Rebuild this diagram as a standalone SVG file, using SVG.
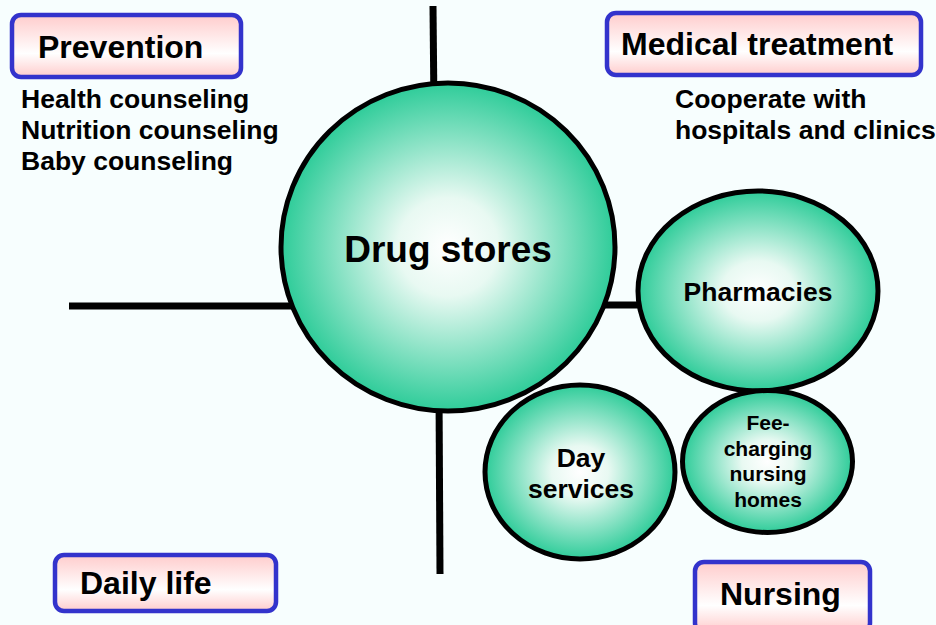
<svg xmlns="http://www.w3.org/2000/svg" width="936" height="625" viewBox="0 0 936 625">
  <defs>
    <radialGradient id="bubble" cx="50%" cy="50%" r="50%">
      <stop offset="0" stop-color="#ffffff"/>
      <stop offset="0.3" stop-color="#e8f9f2"/>
      <stop offset="1" stop-color="#2ecc99"/>
    </radialGradient>
    <linearGradient id="tag" x1="0" y1="0" x2="0" y2="1">
      <stop offset="0" stop-color="#ffcccc"/>
      <stop offset="0.62" stop-color="#ffffff"/>
      <stop offset="1" stop-color="#ffcccc"/>
    </linearGradient>
    <style>
      .bubble { fill: url(#bubble); stroke: #000; stroke-width: 5; }
      .tag { fill: url(#tag); stroke: #3333cc; stroke-width: 4.5; }
      .axis { stroke: #000; stroke-width: 7; fill: none; }
      text { font-family: "Liberation Sans", Arial, sans-serif; font-weight: bold; fill: #000; }
      .head { font-size: 32px; }
      .note { font-size: 26.5px; }
      .mid { text-anchor: middle; }
    </style>
  </defs>

  <rect width="936" height="625" fill="#f7fefe"/>

  <!-- cross of axes behind the bubbles -->
  <g id="connectors">
    <line class="axis" x1="433" y1="6" x2="434" y2="110"/>
    <line class="axis" x1="69" y1="306" x2="300" y2="306"/>
    <line class="axis" x1="600" y1="305" x2="645" y2="305"/>
    <line class="axis" x1="439" y1="390" x2="440" y2="574"/>
  </g>

  <g id="drug-stores">
    <ellipse class="bubble" cx="448" cy="247" rx="167" ry="164"/>
    <text class="mid" x="448" y="262" font-size="37">Drug stores</text>
  </g>

  <g id="pharmacies">
    <ellipse class="bubble" cx="758" cy="291" rx="120" ry="100"/>
    <text class="mid note" x="758" y="301">Pharmacies</text>
  </g>

  <g id="day-services">
    <ellipse class="bubble" cx="580" cy="472" rx="95" ry="87"/>
    <text class="mid note" x="581" y="467">Day</text>
    <text class="mid note" x="581" y="498">services</text>
  </g>

  <g id="nursing-homes">
    <ellipse class="bubble" cx="767.5" cy="461.5" rx="85" ry="71"/>
    <text class="mid" x="768" y="430" font-size="21">Fee-</text>
    <text class="mid" x="768" y="456" font-size="21">charging</text>
    <text class="mid" x="768" y="481" font-size="21">nursing</text>
    <text class="mid" x="768" y="507" font-size="21">homes</text>
  </g>

  <g id="prevention">
    <rect class="tag" x="12" y="15" width="229" height="62" rx="9"/>
    <text class="head" x="38" y="58">Prevention</text>
    <text class="note" x="21" y="108">Health counseling</text>
    <text class="note" x="21" y="139">Nutrition counseling</text>
    <text class="note" x="21" y="170">Baby counseling</text>
  </g>

  <g id="medical-treatment">
    <rect class="tag" x="607" y="13" width="314" height="62" rx="9"/>
    <text class="head" x="621" y="55">Medical treatment</text>
    <text class="note" x="675" y="108">Cooperate with</text>
    <text class="note" x="675" y="139">hospitals and clinics</text>
  </g>

  <g id="daily-life">
    <rect class="tag" x="55" y="555" width="221" height="56" rx="9"/>
    <text class="head" x="80" y="594">Daily life</text>
  </g>

  <g id="nursing">
    <rect class="tag" x="695" y="562" width="175" height="70" rx="9"/>
    <text class="head" x="720" y="605">Nursing</text>
  </g>
</svg>
